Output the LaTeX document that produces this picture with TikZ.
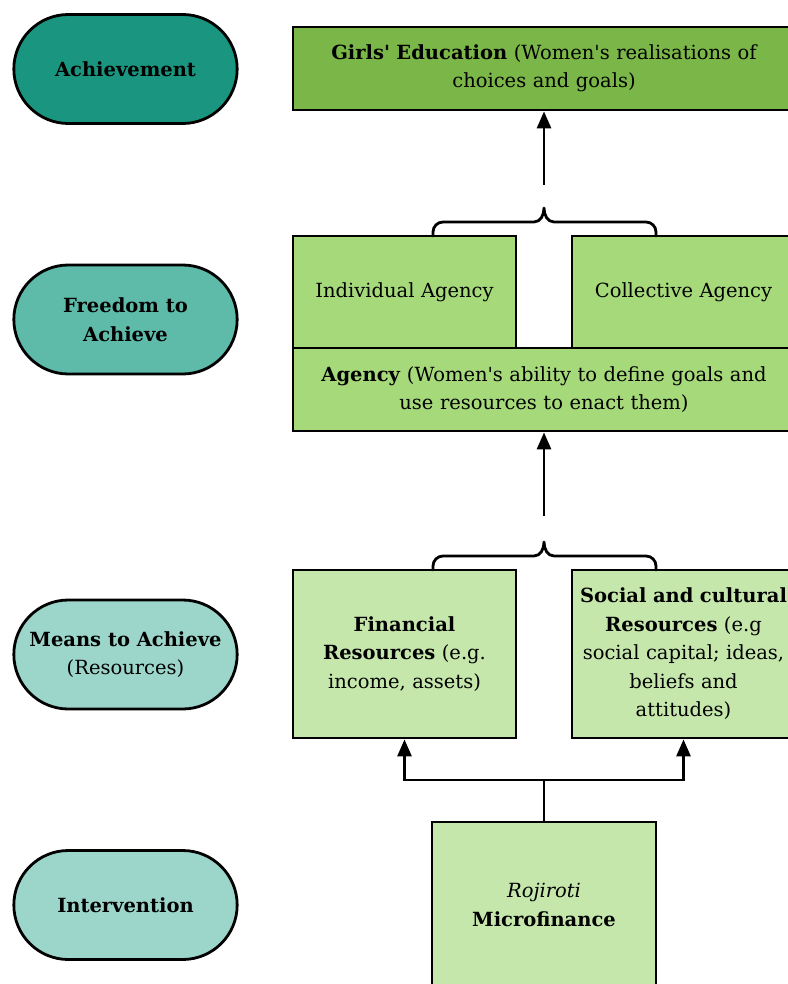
\documentclass[tikz,border=0pt]{standalone}
\usepackage{fontspec}
\setmainfont{DejaVu Serif}
\usetikzlibrary{arrows.meta,shapes.misc}

\definecolor{achieveteal}{HTML}{1A9680}
\definecolor{freedomteal}{HTML}{5EBAA9}
\definecolor{meansteal}{HTML}{9CD6CB}
\definecolor{goalgreen}{HTML}{7AB648}
\definecolor{agencygreen}{HTML}{A6D97A}
\definecolor{resgreen}{HTML}{C5E7AC}

\tikzset{
    stage/.style={rounded rectangle, draw, line width=2.8pt, minimum width=230pt,
        minimum height=109pt, align=center, font=\fontsize{19.5}{28.5}\selectfont},
    box/.style={rectangle, draw, line width=2.8pt, align=center, inner sep=0pt,
        font=\fontsize{19.5}{28.5}\selectfont},
    upline/.style={-{Triangle[length=17pt,width=14pt]}, line width=2.8pt},
    bracket/.style={line width=2.8pt, line cap=round, line join=round}
}

\begin{document}
\begin{tikzpicture}[x=1pt, y=-1pt]
    \useasboundingbox (0,0) rectangle (787,984);

    % stages on the left
    \node[stage, fill=achieveteal] (achieve) at (125.5,69) {\textbf{Achievement}};
    \node[stage, fill=freedomteal] (freedom) at (125.5,319.5) {\textbf{Freedom to}\\\textbf{Achieve}};
    \node[stage, fill=meansteal] (means) at (125.5,654.5) {\textbf{Means to Achieve}\\(Resources)};
    \node[stage, fill=meansteal] (interv) at (125.5,905) {\textbf{Intervention}};

    % boxes
    \node[box, fill=goalgreen, minimum width=502pt, minimum height=83pt, text width=470pt]
        (goal) at (544,68.5) {\textbf{Girls\textquotesingle{} Education} (Women\textquotesingle s realisations of\\choices and goals)};
    \node[box, fill=agencygreen, minimum width=223pt, minimum height=112pt, text width=215pt]
        (indiv) at (404.5,292) {Individual Agency};
    \node[box, fill=agencygreen, minimum width=223pt, minimum height=112pt, text width=215pt]
        (collect) at (683.5,292) {Collective Agency};
    \node[box, fill=agencygreen, minimum width=502pt, minimum height=83pt, text width=480pt]
        (agency) at (544,389.5) {\textbf{Agency} (Women\textquotesingle s ability to define goals and\\use resources to enact them)};
    \node[box, fill=resgreen, minimum width=223pt, minimum height=168pt, text width=205pt]
        (fin) at (404.5,654) {\textbf{Financial}\\\textbf{Resources} (e.g.\\income, assets)};
    \node[box, fill=resgreen, minimum width=223pt, minimum height=168pt, text width=215pt]
        (soc) at (683.5,654) {\textbf{Social and cultural}\\\textbf{Resources} (e.g\\social capital; ideas,\\beliefs and\\attitudes)};
    \node[box, fill=resgreen, minimum width=224pt, minimum height=166pt, text width=210pt]
        (micro) at (544,905) {\textit{Rojiroti}\\\textbf{Microfinance}};

    % braces
    \draw[bracket] (433,236) -- (433,232) to[out=90,in=180] (443,222) -- (534,222)
        to[out=0,in=-90] (544,208) to[out=-90,in=180] (554,222) -- (646,222)
        to[out=0,in=90] (656,232) -- (656,236);
    \draw[bracket] (433,570) -- (433,566) to[out=90,in=180] (443,556) -- (534,556)
        to[out=0,in=-90] (544,542) to[out=-90,in=180] (554,556) -- (646,556)
        to[out=0,in=90] (656,566) -- (656,570);

    % arrows
    \coordinate (agencytop) at (544,185);
    \coordinate (restop) at (544,516);
    \coordinate (split) at (544,780);
    \draw[upline] (agencytop) -- (goal.south);
    \draw[upline] (restop) -- (agency.south);
    \draw[line width=2.8pt] (micro.north) -- (split);
    \draw[upline] (split) -| (fin.south);
    \draw[upline] (split) -| (soc.south);
\end{tikzpicture}
\end{document}
